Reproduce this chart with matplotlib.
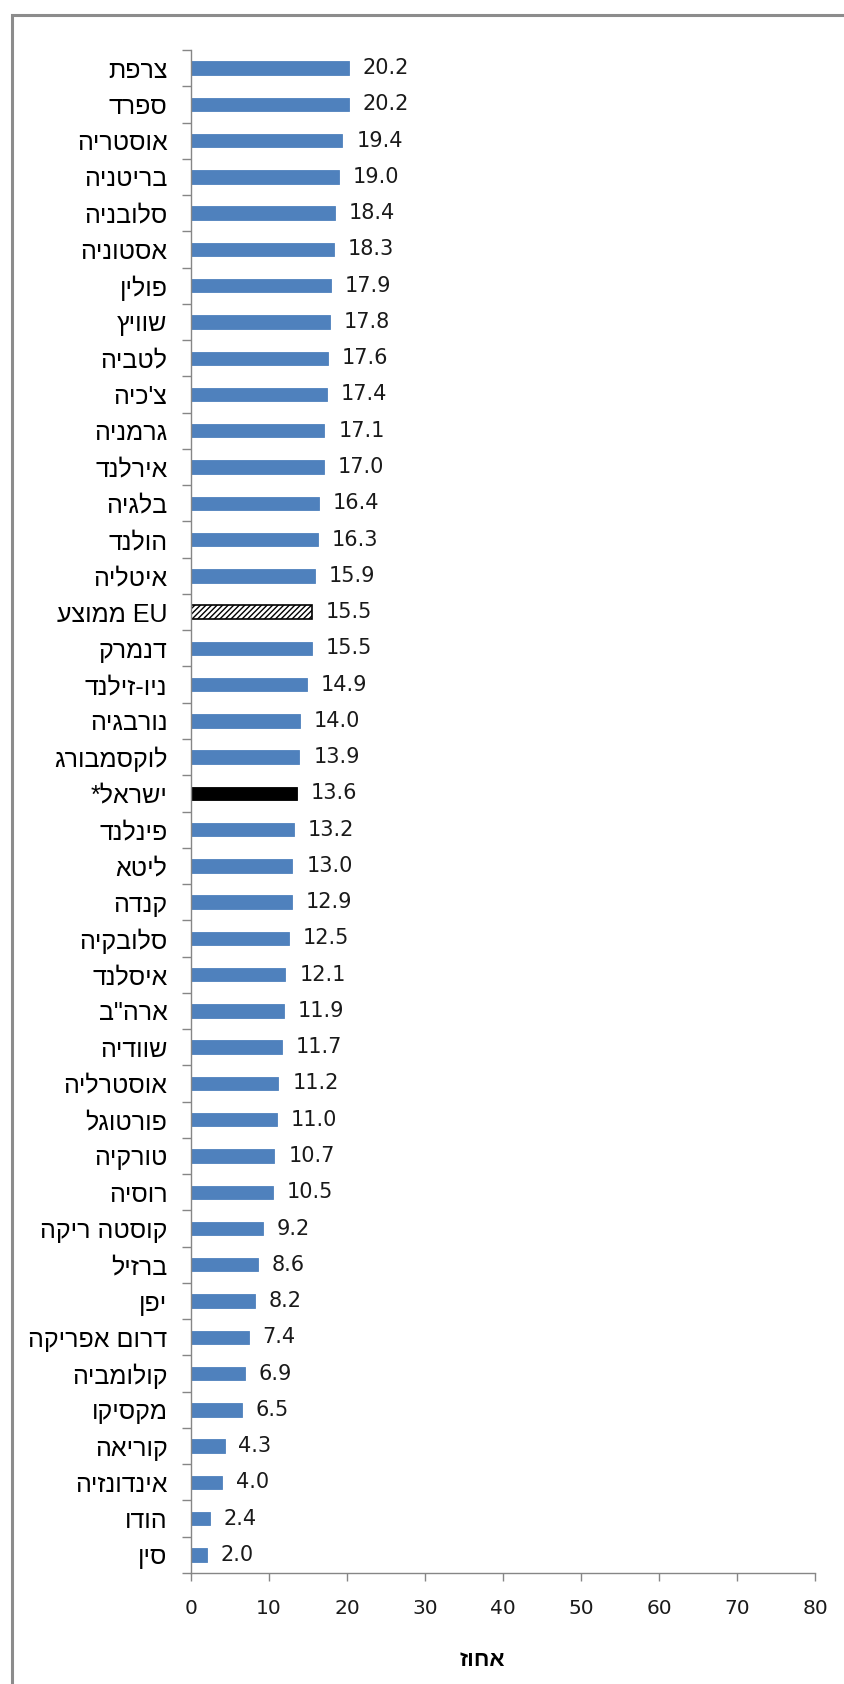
import re
import matplotlib
matplotlib.use('Agg')
from matplotlib import pyplot as plt
from matplotlib.patches import Rectangle

eu_label = 'ממוצע' + ' EU'
israel_label = '*' + 'ישראל'
countries = ['צרפת', 'ספרד', 'אוסטריה', 'בריטניה', 'סלובניה', 'אסטוניה', 'פולין',
             'שוויץ', 'לטביה', "צ'כיה", 'גרמניה', 'אירלנד', 'בלגיה', 'הולנד',
             'איטליה', eu_label, 'דנמרק', 'ניו-זילנד', 'נורבגיה', 'לוקסמבורג',
             israel_label, 'פינלנד', 'ליטא', 'קנדה', 'סלובקיה', 'איסלנד', 'ארה"ב',
             'שוודיה', 'אוסטרליה', 'פורטוגל', 'טורקיה', 'רוסיה', 'קוסטה ריקה',
             'ברזיל', 'יפן', 'דרום אפריקה', 'קולומביה', 'מקסיקו', 'קוריאה',
             'אינדונזיה', 'הודו', 'סין']
values = [20.2, 20.2, 19.4, 19.0, 18.4, 18.3, 17.9, 17.8, 17.6, 17.4, 17.1, 17.0,
          16.4, 16.3, 15.9, 15.5, 15.5, 14.9, 14.0, 13.9, 13.6, 13.2, 13.0, 12.9,
          12.5, 12.1, 11.9, 11.7, 11.2, 11.0, 10.7, 10.5, 9.2, 8.6, 8.2, 7.4, 6.9,
          6.5, 4.3, 4.0, 2.4, 2.0]
xticks = [0, 10, 20, 30, 40, 50, 60, 70, 80]
xlabel = 'אחוז'

heb = r"[\u0590-\u05FF][\u0590-\u05FF \"'\-]*[\u0590-\u05FF]|[\u0590-\u05FF]"


def visual(s):
    # matplotlib lays text out left to right, so flip the Hebrew runs
    return re.sub(heb, lambda m: m.group(0)[::-1], s)


HEB_FONT = ['Liberation Sans', 'DejaVu Sans']
NUM_FONT = ['DejaVu Sans']
BLUE = '#4F81BD'
AXIS = '#868686'
plt.rcParams['hatch.linewidth'] = 1.0

fig = plt.figure(figsize=(8.44, 16.84), dpi=100)
ax = fig.add_axes([191 / 844, 1 - 1573 / 1684, 624 / 844, 1523 / 1684])

pos = list(range(len(values)))
colors = []
for name in countries:
    if name == israel_label:
        colors.append('black')
    elif name == eu_label:
        colors.append('white')
    else:
        colors.append(BLUE)

bars = ax.barh(pos, values, height=0.37, color=colors, edgecolor=colors, linewidth=0.6)
for b, name in zip(bars, countries):
    if name == eu_label:
        b.set_hatch('//////')
        b.set_edgecolor('black')
        b.set_linewidth(1.2)

for p, v in zip(pos, values):
    ax.annotate(f'{v:.1f}', (v, p), xytext=(10, 0), textcoords='offset points',
                va='center', ha='left', fontsize=15, family=NUM_FONT, color='#1a1a1a')

ax.set_xlim(0, 80)
ax.set_ylim(len(values) - 0.5, -0.5)
ax.set_xticks(xticks)
ax.set_xticklabels([str(t) for t in xticks], family=NUM_FONT, fontsize=14.5)
ax.set_yticks(pos)
ax.set_yticklabels([visual(c) for c in countries], family=HEB_FONT, fontsize=18)
ax.set_yticks([p - 0.5 for p in pos] + [len(values) - 0.5], minor=True)
ax.tick_params(axis='y', which='major', length=0, pad=17)
ax.tick_params(axis='y', which='minor', length=6.5, color=AXIS, width=1)
ax.tick_params(axis='x', length=6, color=AXIS, width=1, pad=13, labelcolor='#1a1a1a')

for side in ('top', 'right'):
    ax.spines[side].set_visible(False)
for side in ('left', 'bottom'):
    ax.spines[side].set_color(AXIS)
    ax.spines[side].set_linewidth(1)

ax.text((482 - 191) / 624, (1573 - 1660) / 1523, visual(xlabel), transform=ax.transAxes,
        ha='center', va='center', fontsize=16, fontweight='bold', family=HEB_FONT)

# chart-area frame
fig.patches.append(Rectangle((12 / 844, -0.05), 1.1, 1 - 15 / 1684 + 0.05,
                             transform=fig.transFigure, fill=False,
                             edgecolor='#8c8c8c', linewidth=2.2, zorder=0))

fig.savefig('out.png', dpi=100)
